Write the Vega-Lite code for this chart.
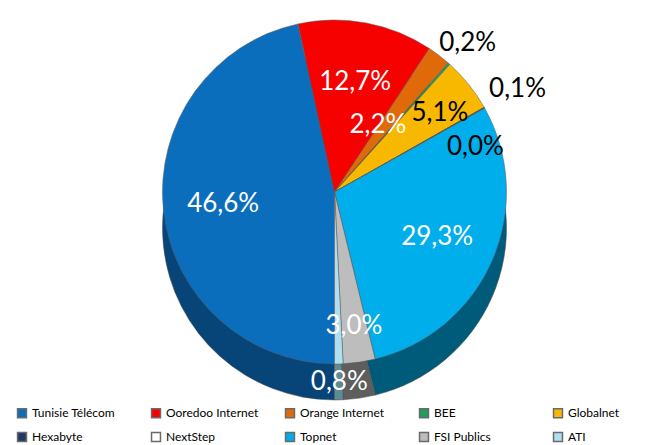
{
  "$schema": "https://vega.github.io/schema/vega-lite/v6.json",
  "width": 669,
  "height": 445,
  "autosize": {"type": "fit", "contains": "padding"},
  "padding": {"left": 16, "right": 16, "top": 4, "bottom": 0},
  "background": "white",
  "config": {
    "view": {"stroke": null},
    "locale": {"number": {"decimal": ",", "thousands": ".", "grouping": [3], "currency": ["", " €"]}},
    "text": {"font": "Lato"},
    "legend": {"labelFont": "Lato"}
  },
  "data": {
    "values": [
      {"idx": 1, "name": "Tunisie Télécom", "share": 0.466},
      {"idx": 2, "name": "Ooredoo Internet", "share": 0.127},
      {"idx": 3, "name": "Orange Internet", "share": 0.022},
      {"idx": 4, "name": "BEE", "share": 0.002},
      {"idx": 5, "name": "Globalnet", "share": 0.051},
      {"idx": 6, "name": "Hexabyte", "share": 0.001},
      {"idx": 7, "name": "NextStep", "share": 0.0},
      {"idx": 8, "name": "Topnet", "share": 0.293},
      {"idx": 9, "name": "FSI Publics", "share": 0.030},
      {"idx": 10, "name": "ATI", "share": 0.008}
    ]
  },
  "encoding": {
    "theta": {"field": "share", "type": "quantitative", "stack": true, "scale": {"range": [3.14159265, 9.42477796]}},
    "order": {"field": "idx", "type": "quantitative"}
  },
  "layer": [
    {
      "mark": {"type": "arc", "outerRadius": 172, "yOffset": 18, "stroke": "#4a4a4a", "strokeWidth": 0.5},
      "encoding": {
        "color": {
          "field": "name", "type": "nominal", "legend": null,
          "scale": {
            "domain": ["Tunisie Télécom", "Ooredoo Internet", "Orange Internet", "BEE", "Globalnet", "Hexabyte", "NextStep", "Topnet", "FSI Publics", "ATI"],
            "range": ["#074477", "#9A0000", "#8A4106", "#125F36", "#9A7000", "#10203A", "#999999", "#005A7A", "#5E5E5E", "#5F8A94"]
          }
        }
      }
    },
    {
      "mark": {"type": "arc", "outerRadius": 172, "yOffset": -18, "stroke": "#5a5a5a", "strokeWidth": 0.5},
      "encoding": {
        "color": {
          "field": "name", "type": "nominal",
          "scale": {
            "domain": ["Tunisie Télécom", "Ooredoo Internet", "Orange Internet", "BEE", "Globalnet", "Hexabyte", "NextStep", "Topnet", "FSI Publics", "ATI"],
            "range": ["#0A6EBD", "#F70000", "#E06A0A", "#1E9E5A", "#F9B800", "#1F3864", "#FFFFFF", "#00AEEB", "#BDBDBD", "#AEE0F2"]
          },
          "legend": {
            "title": null, "orient": "bottom", "direction": "horizontal", "columns": 5,
            "symbolType": "square", "symbolSize": 80, "symbolStrokeWidth": 1.5, "symbolStrokeColor": "#6a6a6a",
            "labelFontSize": 12, "labelColor": "#000000", "columnPadding": 23, "rowPadding": 8, "gridAlign": "all",
            "offset": 6
          }
        }
      }
    },
    {
      "mark": {"type": "text", "radius": 112, "yOffset": -18, "fontSize": 26, "color": "white"},
      "encoding": {
        "text": {"condition": {"test": "indexof(['Tunisie Télécom','Ooredoo Internet','Topnet'], datum.name) >= 0", "field": "share", "type": "quantitative", "format": ".1%"}, "value": ""}
      }
    },
    {
      "mark": {"type": "text", "radius": 80, "yOffset": -18, "thetaOffset": -0.08, "fontSize": 26, "color": "white"},
      "encoding": {
        "text": {"condition": {"test": "datum.name === 'Orange Internet'", "field": "share", "type": "quantitative", "format": ".1%"}, "value": ""}
      }
    },
    {
      "mark": {"type": "text", "radius": 135, "yOffset": -18, "fontSize": 26, "color": "white"},
      "encoding": {
        "text": {"condition": {"test": "datum.name === 'FSI Publics'", "field": "share", "type": "quantitative", "format": ".1%"}, "value": ""}
      }
    },
    {
      "mark": {"type": "text", "radius": 190, "yOffset": -18, "fontSize": 26, "color": "white"},
      "encoding": {
        "text": {"condition": {"test": "datum.name === 'ATI'", "field": "share", "type": "quantitative", "format": ".1%"}, "value": ""}
      }
    },
    {
      "mark": {"type": "text", "radius": 132, "yOffset": -18, "thetaOffset": 0.03, "fontSize": 26, "color": "black"},
      "encoding": {
        "text": {"condition": {"test": "datum.name === 'Globalnet'", "field": "share", "type": "quantitative", "format": ".1%"}, "value": ""}
      }
    },
    {
      "mark": {"type": "text", "radius": 200, "yOffset": -18, "fontSize": 26, "color": "black"},
      "encoding": {
        "text": {"condition": {"test": "datum.name === 'BEE'", "field": "share", "type": "quantitative", "format": ".1%"}, "value": ""}
      }
    },
    {
      "mark": {"type": "text", "radius": 210, "yOffset": -18, "fontSize": 26, "color": "black"},
      "encoding": {
        "text": {"condition": {"test": "datum.name === 'Hexabyte'", "field": "share", "type": "quantitative", "format": ".1%"}, "value": ""}
      }
    },
    {
      "mark": {"type": "text", "radius": 148, "yOffset": -18, "thetaOffset": 0.2, "fontSize": 26, "color": "black"},
      "encoding": {
        "text": {"condition": {"test": "datum.name === 'NextStep'", "field": "share", "type": "quantitative", "format": ".1%"}, "value": ""}
      }
    }
  ],
  "resolve": {"scale": {"color": "independent"}}
}
